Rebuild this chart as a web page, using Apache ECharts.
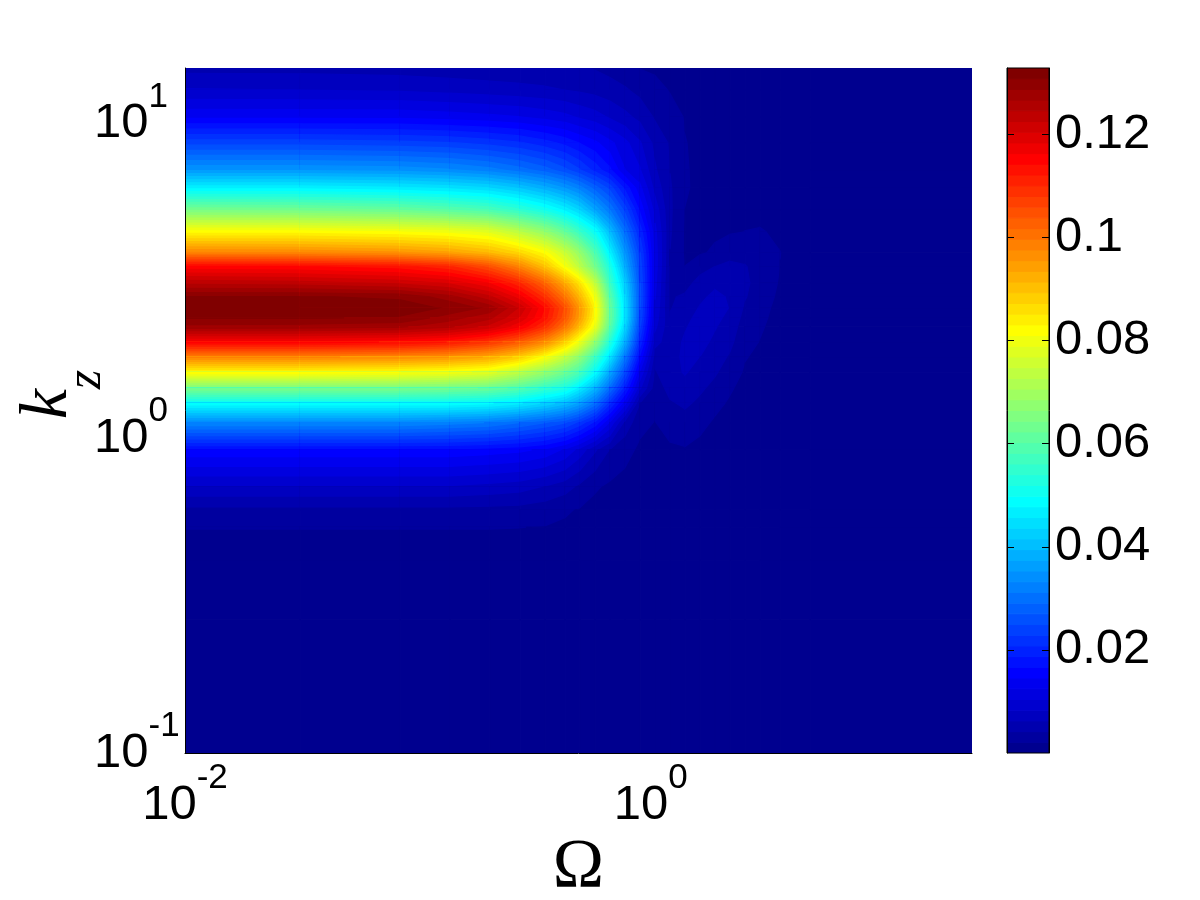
<!DOCTYPE html>
<html><head><meta charset="utf-8">
<style>html,body{margin:0;padding:0;background:#fff}#c{width:1200px;height:900px}</style>
<script src="https://cdn.jsdelivr.net/npm/echarts@6/dist/echarts.min.js"></script>
</head><body><div id="c"></div>
<script>
const omegaValues = [0.01,0.0312,0.0839,0.1375,0.204,0.275,0.352,0.429,0.497,0.577,0.669,0.776,0.901,1.044,1.211,1.405,1.63,1.89,2.193,2.544,2.951,3.596,4.838,24];
const kzValues = [15,12.77,10.48,8.67,7.11,6.24,5.31,4.52,3.88,3.5,3.11,2.81,2.59,2.41,2.26,2.02,1.81,1.62,1.44,1.29,1.12,0.918,0.7,0.592,0.522,0.41,0.265,0.1];
// one row per kz value, one entry per omega value, in units of 1e-3
const valueRows = [
[5.5,5.5,5.3,5.0,4.8,4.7,4.5,4.4,4.3,4.0,3.5,2.8,2.0,1.6,1.3,1.1,1,.9,.8,.7,.6,.5,.4,.2],
[8.5,8.3,8,7.6,7.2,6.9,6.6,6.2,5.9,5.5,5,4.4,3.5,3,1.9,1.4,1.2,1.1,1,.9,.8,.7,.5,.2],
[14,14,14,13.5,13,12.5,11.7,11,10,9.2,8,6.8,5.6,3.9,3.2,1.9,1.4,1.3,1.2,1.1,1,.9,.6,.2],
[24,24,23.5,23,22,21,19.5,18,16.5,15,13,11,8.5,5.6,3.9,2.15,1.6,1.4,1.3,1.2,1.1,1,.7,.2],
[35,35,34.5,33.5,32,30,28,25.5,23,20,17,12.5,10.5,6.5,4.1,2.2,1.75,1.5,1.4,1.3,1.2,1.1,.7,.2],
[47,47,46,45,43.5,41,38,35,32,28,24,18,13,7.5,4.4,2.2,1.8,1.6,1.5,1.4,1.3,1.1,.8,.2],
[64,63.5,62,60,58,54.5,51,47,43,37,31,24,16,9.5,4.5,2.05,1.65,1.7,1.7,1.7,1.6,1.4,.8,.2],
[82,82,81,80,78,73,68,62,56,50,40,30,20,11,4.4,1.8,1.55,1.85,1.9,2.1,2.2,1.8,.9,.2],
[98,97.5,96,94,91,87,82,75,68,59,47,35,23,11.5,4.1,1.8,1.9,2.3,3.5,3.4,2.8,2.1,1,.2],
[115,114.5,113,110.5,105,98,90,81,73,64,52,38,24,11.5,3.9,2.1,3.3,4.2,4.6,4.3,3.2,2.05,1,.2],
[124,123.5,122,120,116,110,102,93,85,74,56,42,25,11,3.8,3.3,5,5.8,5.5,4.6,3.2,1.9,1,.2],
[131,131,130.5,127.5,123,117,109,100,91,80,60,44,25.5,10.5,3.9,4.5,5.8,6.7,6,4.3,3,1.7,.9,.2],
[132.9,132.6,131.8,130.5,128,122,114,105,95,83,62,45,25,10,4,5.1,6.4,7.2,6.1,3.8,2.7,1.5,.9,.2],
[131,131,130.6,127.5,125,120,113,104,94,82,62,45,24.5,9.5,4.4,5.6,6.9,6.9,5.5,3.5,2.5,1.4,.8,.2],
[128,127.8,127,125,121.5,116,109,100,90.5,79,60,43,23,8.8,4.6,6,7.3,6.4,5.1,3.2,2.3,1.3,.8,.2],
[115,115,114,112,108,103,97,88,79,68,53,38,20,7,5,6.6,7,5.7,4.6,2.7,2,1.1,.7,.2],
[98,98,97,95.5,93,88,81,74,67,57,45,31,16,5,5.3,6.7,6.2,5,3.9,2.2,1.6,1,.6,.2],
[82,82,81,80,78,73,68,63,58,49,37,25,12,3.9,5.5,6.4,5.4,4.4,3.1,1.8,1.3,.9,.5,.2],
[64,64,64,63,62,59,55,52,46,39,29,19,8.5,3,4.8,5.4,4.5,3.5,2.3,1.4,1.1,.8,.5,.2],
[49,49,49,49,48,46,43,40,36,30,21,13,4,2.5,3.9,4.5,3.7,2.6,1.8,1.2,.9,.7,.4,.2],
[33,33,33,32,31,29,27,25,22,18,12,5.5,2.6,2,3,3.3,2.6,1.8,1.3,.9,.7,.6,.4,.2],
[16,16,16,16,15.5,15,14,12,9.5,6.5,4,2.7,1.7,1.5,1.7,1.9,1.5,1.2,.9,.7,.6,.5,.35,.2],
[8,8,8,8,7.5,7,6,5,3.6,2.3,1.7,1.4,.9,.95,1,1,.9,.7,.6,.5,.45,.4,.3,.2],
[3.6,3.6,3.6,3.6,3.5,3.4,3,2.3,1.9,1.5,1.1,.9,.6,.7,.7,.7,.6,.5,.45,.4,.35,.3,.25,.2],
[2.15,2.15,2.15,2.15,2.15,2.1,2,1.8,1.5,1.1,.9,.7,.5,.6,.6,.6,.5,.45,.4,.35,.3,.3,.25,.2],
[1,1,1,1,1,1.1,1.2,1.1,1,.7,.6,.5,.4,.4,.4,.4,.4,.35,.3,.3,.25,.25,.2,.2],
[.5,.5,.5,.5,.5,.5,.5,.5,.5,.4,.3,.3,.3,.3,.3,.3,.3,.25,.25,.25,.25,.2,.2,.2],
[.2,.2,.2,.2,.2,.2,.2,.2,.2,.2,.2,.2,.2,.2,.2,.2,.2,.2,.2,.2,.2,.2,.2,.2]
];
const xLabelExponents = [-2, 0];
const yLabelExponents = [-1, 0, 1];
const colorTicks = [0.02, 0.04, 0.06, 0.08, 0.1, 0.12];
const colorMax = 0.1329;
const levelCount = 64;
const xTitle = 'Ω';

const levelStep = colorMax / levelCount;
function jet(n) { // MATLAB jet(64), n = 1..64
  const r = n <= 24 ? 0 : n <= 40 ? (n - 24) / 16 : n <= 56 ? 1 : 1 - (n - 56) / 16;
  const g = n <= 8 ? 0 : n <= 24 ? (n - 8) / 16 : n <= 40 ? 1 : n <= 56 ? 1 - (n - 40) / 16 : 0;
  const b = n <= 8 ? 0.5 + n / 16 : n <= 24 ? 1 : n <= 40 ? 1 - (n - 24) / 16 : 0;
  return 'rgb(' + [r, g, b].map(c => Math.round(c * 255)).join(',') + ')';
}
const cellData = [];
for (let j = 0; j + 1 < kzValues.length; j++) {
  for (let i = 0; i + 1 < omegaValues.length; i++) {
    cellData.push([omegaValues[i], omegaValues[i + 1], kzValues[j], kzValues[j + 1],
      valueRows[j][i] / 1000, valueRows[j][i + 1] / 1000, valueRows[j + 1][i + 1] / 1000, valueRows[j + 1][i] / 1000]);
  }
}
const bandData = [];
for (let i = 0; i < levelCount; i++) bandData.push([i * levelStep, (i + 1) * levelStep, i + 1]);

function clipAbove(poly, t) { // keep the part of the polygon with value >= t
  const out = [];
  for (let k = 0; k < poly.length; k++) {
    const a = poly[k], b = poly[(k + 1) % poly.length];
    if (a[2] >= t) out.push(a);
    if ((a[2] >= t) !== (b[2] >= t)) {
      const f = (t - a[2]) / (b[2] - a[2]);
      out.push([a[0] + f * (b[0] - a[0]), a[1] + f * (b[1] - a[1]), t]);
    }
  }
  return out;
}
function renderCell(params, api) {
  const x0 = api.value(0), x1 = api.value(1), y0 = api.value(2), y1 = api.value(3);
  const p = [[x0, y0, api.value(4)], [x1, y0, api.value(5)], [x1, y1, api.value(6)], [x0, y1, api.value(7)]]
    .map(q => { const c = api.coord([q[0], q[1]]); return [c[0], c[1], q[2]]; });
  const vs = p.map(q => q[2]);
  const lo = Math.min.apply(null, vs), hi = Math.max.apply(null, vs);
  const first = Math.min(levelCount - 1, Math.floor(lo / levelStep));
  const last = Math.min(levelCount - 1, Math.floor(hi / levelStep));
  const children = [];
  for (let n = first; n <= last; n++) {
    const poly = n === first ? p : clipAbove(p, n * levelStep);
    if (poly.length < 3) continue;
    const col = jet(n + 1);
    children.push({ type: 'polygon', shape: { points: poly.map(q => [q[0], q[1]]) },
      style: { fill: col, stroke: col, lineWidth: 1.2 } });
  }
  return { type: 'group', children };
}
function renderBand(params, api) {
  const a = api.coord([0, api.value(0)]), b = api.coord([1, api.value(1)]);
  const col = jet(api.value(2));
  return { type: 'rect', shape: { x: a[0], y: b[1], width: b[0] - a[0], height: a[1] - b[1] },
    style: { fill: col, stroke: col, lineWidth: 1 } };
}
function powerLabel(allowed) {
  return function (v) {
    const e = Math.log10(v), r = Math.round(e);
    if (Math.abs(e - r) > 1e-6 || allowed.indexOf(r) < 0) return '';
    return '{b|10}{s|' + r + '}';
  };
}
const tickRich = {
  b: { fontFamily: 'Liberation Sans', fontSize: 49, lineHeight: 49, verticalAlign: 'middle', color: '#000' },
  s: { fontFamily: 'Liberation Sans', fontSize: 35, lineHeight: 88, verticalAlign: 'top', color: '#000' }
};
const blackLine = { show: true, onZero: false, lineStyle: { color: '#000', width: 1 } };

const chart = echarts.init(document.getElementById('c'), null, { renderer: 'canvas' });
chart.setOption({
  animation: false,
  backgroundColor: '#fff',
  grid: [
    { left: 185, top: 68, width: 787, height: 685, containLabel: false, outerBoundsMode: 'none' },
    { left: 1007, top: 68, width: 42, height: 685, show: true, borderColor: '#000', borderWidth: 1, backgroundColor: 'transparent', z: 5, outerBoundsMode: 'none' }
  ],
  xAxis: [
    { type: 'log', gridIndex: 0, min: 0.01, max: 24, logBase: 10, z: 5,
      name: xTitle, nameLocation: 'middle', nameGap: 79,
      nameTextStyle: { fontFamily: 'Liberation Serif', fontSize: 69, color: '#000' },
      axisLine: blackLine, axisTick: { show: false }, splitLine: { show: false }, minorTick: { show: false },
      axisLabel: { margin: 8, verticalAlign: 'top', formatter: powerLabel(xLabelExponents), rich: tickRich, showMinLabel: true, showMaxLabel: true, hideOverlap: false } },
    { type: 'value', gridIndex: 1, min: 0, max: 1, show: false }
  ],
  yAxis: [
    { type: 'log', gridIndex: 0, min: 0.1, max: 15, logBase: 10, z: 5,
      name: '{k|k}{z|z}', nameLocation: 'middle', nameGap: 73, nameRotate: 90, nameMoveOverlap: false,
      nameTextStyle: { padding: [0, 0, 0, 32], rich: {
        k: { fontFamily: 'Liberation Serif', fontStyle: 'italic', fontSize: 68, lineHeight: 98, verticalAlign: 'top', color: '#000' },
        z: { fontFamily: 'Liberation Serif', fontStyle: 'italic', fontSize: 50, lineHeight: 98, verticalAlign: 'bottom', color: '#000' } } },
      axisLine: blackLine, axisTick: { show: false }, splitLine: { show: false }, minorTick: { show: false },
      axisLabel: { margin: 91, align: 'left', verticalAlign: 'middle', formatter: powerLabel(yLabelExponents), rich: tickRich, showMinLabel: true, showMaxLabel: true, hideOverlap: false } },
    { type: 'value', gridIndex: 1, min: 0, max: colorMax, position: 'right', z: 6,
      axisLine: { show: true, onZero: false, lineStyle: { color: '#000', width: 1 } },
      axisTick: { show: true, inside: true, length: 7, customValues: colorTicks, lineStyle: { color: '#000', width: 1 } },
      splitLine: { show: false },
      axisLabel: { customValues: colorTicks, margin: 6, fontFamily: 'Liberation Sans', fontSize: 49, color: '#000' } },
    { type: 'value', gridIndex: 1, min: 0, max: colorMax, position: 'left', z: 6,
      axisLine: { show: true, onZero: false, lineStyle: { color: '#000', width: 1 } },
      axisTick: { show: true, inside: true, length: 7, customValues: colorTicks, lineStyle: { color: '#000', width: 1 } },
      splitLine: { show: false }, axisLabel: { show: false } }
  ],
  series: [
    { type: 'custom', name: 'field', xAxisIndex: 0, yAxisIndex: 0, coordinateSystem: 'cartesian2d', clip: true,
      data: cellData, encode: { x: [0, 1], y: [2, 3] }, renderItem: renderCell, progressive: 0, silent: true },
    { type: 'custom', name: 'colorbar', xAxisIndex: 1, yAxisIndex: 1, coordinateSystem: 'cartesian2d', clip: true,
      data: bandData, encode: { y: [0, 1] }, renderItem: renderBand, progressive: 0, silent: true }
  ]
});
</script></body></html>
